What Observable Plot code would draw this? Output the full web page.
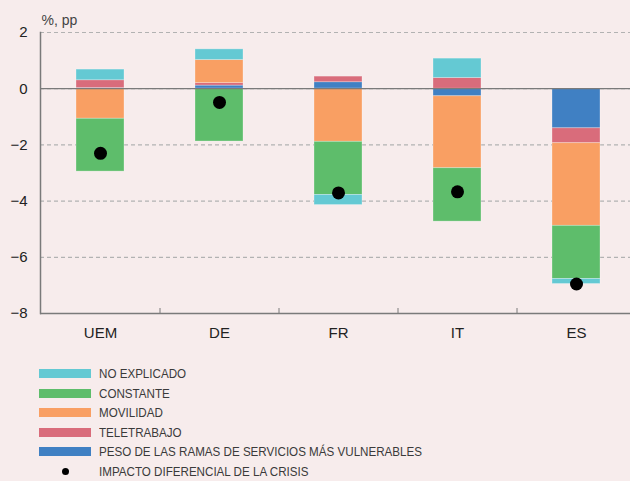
<!DOCTYPE html>
<html>
<head>
<meta charset="utf-8">
<script src="https://cdn.jsdelivr.net/npm/d3@7"></script>
<script src="https://cdn.jsdelivr.net/npm/@observablehq/plot@0.6"></script>
<style>
  html, body { margin: 0; padding: 0; background: #f7ecec; }
  #chart { width: 630px; height: 481px; position: relative; overflow: hidden; }
  .legend { font-family: "Liberation Sans", Arial, sans-serif; font-size: 13.5px; color: #3a3a3a; margin-top: 12px; }
  .row { display: flex; align-items: center; height: 19.5px; white-space: nowrap; }
  .row span { display: inline-block; transform: scaleX(0.86); transform-origin: left center; }
  .sw { width: 52px; height: 9px; margin-left: 39px; margin-right: 8px; flex: none; }
  .dotwrap { width: 52px; margin-left: 39px; margin-right: 8px; display: flex; justify-content: center; flex: none; }
  .dot { width: 7px; height: 7px; border-radius: 50%; background: #000; }
</style>
</head>
<body>
<div id="chart"></div>
<script>
const countries = ["UEM", "DE", "FR", "IT", "ES"];
const seriesNames = ["PESO DE LAS RAMAS DE SERVICIOS MÁS VULNERABLES", "TELETRABAJO", "MOVILIDAD", "CONSTANTE", "NO EXPLICADO"];
const seriesColors = ["#4080c3", "#d96c7b", "#f99f63", "#5ebd6b", "#64c9d3"];
const peso        = [0.02, 0.11, 0.23, -0.27, -1.41];
const teletrabajo = [0.28, 0.09, 0.20, 0.38, -0.53];
const movilidad   = [-1.07, 0.82, -1.89, -2.56, -2.94];
const constante   = [-1.88, -1.88, -1.89, -1.90, -1.89];
const noExplicado = [0.38, 0.38, -0.36, 0.69, -0.18];
const impacto     = [-2.30, -0.49, -3.71, -3.67, -6.95];
const yTicks = [2, 0, -2, -4, -6, -8];
const legendOrder = ["NO EXPLICADO", "CONSTANTE", "MOVILIDAD", "TELETRABAJO", "PESO DE LAS RAMAS DE SERVICIOS MÁS VULNERABLES"];
const dotLabel = "IMPACTO DIFERENCIAL DE LA CRISIS";

const seriesValues = [peso, teletrabajo, movilidad, constante, noExplicado];
const rows = [];
seriesNames.forEach((s, i) => countries.forEach((c, j) => rows.push({country: c, series: s, value: seriesValues[i][j]})));
const dots = countries.map((c, j) => ({country: c, value: impacto[j]}));

const plot = Plot.plot({
  width: 630,
  height: 352,
  marginLeft: 40,
  marginRight: 0,
  marginTop: 32,
  marginBottom: 39,
  style: {background: "transparent", fontFamily: "'Liberation Sans', Arial, sans-serif"},
  x: {domain: countries, range: [40, 635], paddingInner: 0.6, paddingOuter: 0.3, label: null},
  y: {domain: [-8, 2], ticks: yTicks, label: null},
  color: {domain: seriesNames, range: seriesColors},
  marks: [
    Plot.gridY(yTicks.filter(t => t !== -8), {stroke: "#b2b2b2", strokeOpacity: 1, strokeDasharray: "4,3", strokeWidth: 1.2}),
    Plot.barY(rows, {x: "country", y: "value", fill: "series", stroke: "#ffffff", strokeOpacity: 0.35, strokeWidth: 0.8}),
    Plot.ruleY([0], {stroke: "#7a7a7a", strokeWidth: 1.2}),
    Plot.ruleY([-8], {stroke: "#7a7a7a", strokeWidth: 1.5}),
    Plot.frame({anchor: "left", stroke: "#7a7a7a", strokeWidth: 1.5}),
    Plot.dot(dots, {x: "country", y: "value", r: 6.5, fill: "#000"}),
    Plot.axisY(yTicks, {tickSize: 0, tickPadding: 13, fontSize: 15, fill: "#222"}),
    Plot.axisX({tickSize: 0, tickPadding: 14, fontSize: 15, fill: "#222"}),
    Plot.axisX({tickSize: -5, text: null, dx: 59.5, stroke: "#7a7a7a"}),
    Plot.text(["%, pp"], {frameAnchor: "top-left", dy: -17, dx: 1, textAnchor: "start", fontSize: 14, fill: "#444"})
  ]
});
const root = document.getElementById("chart");
root.appendChild(plot);

const leg = document.createElement("div");
leg.className = "legend";
legendOrder.forEach(name => {
  const r = document.createElement("div");
  r.className = "row";
  const sw = document.createElement("div");
  sw.className = "sw";
  sw.style.background = seriesColors[seriesNames.indexOf(name)];
  const t = document.createElement("span");
  t.textContent = name;
  r.appendChild(sw); r.appendChild(t);
  leg.appendChild(r);
});
const dr = document.createElement("div");
dr.className = "row";
dr.innerHTML = '<div class="dotwrap"><div class="dot"></div></div>';
const dt = document.createElement("span");
dt.textContent = dotLabel;
dr.appendChild(dt);
leg.appendChild(dr);
root.appendChild(leg);
</script>
</body>
</html>
